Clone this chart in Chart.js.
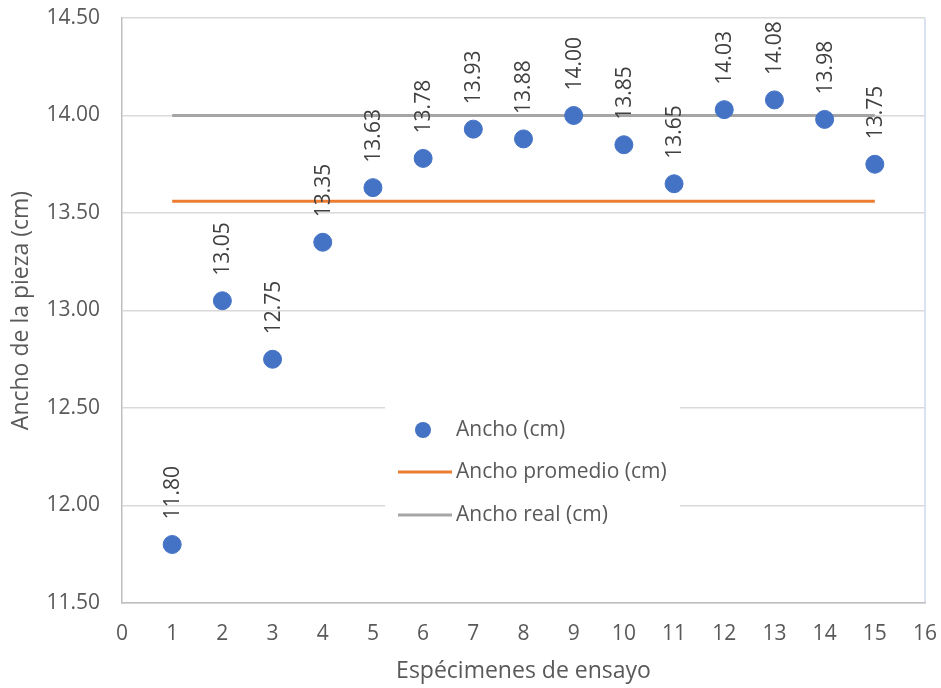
<!DOCTYPE html>
<html>
<head>
<meta charset="utf-8">
<script src="https://cdn.jsdelivr.net/npm/chart.js@4.4.1/dist/chart.umd.min.js"></script>
<style>
  html, body { margin: 0; padding: 0; background: #fff; }
  #wrap { width: 941px; height: 688px; }
</style>
</head>
<body>
<div id="wrap"><canvas id="myChart" width="941" height="688"></canvas></div>
<script>
// specimen numbers and measured widths
var especimenes = [1, 2, 3, 4, 5, 6, 7, 8, 9, 10, 11, 12, 13, 14, 15];
var anchos = [11.80, 13.05, 12.75, 13.35, 13.63, 13.78, 13.93, 13.88, 14.00, 13.85, 13.65, 14.03, 14.08, 13.98, 13.75];
// reference lines, from first to last specimen
var lineaX = [1, 15];
var anchoPromedio = [13.56, 13.56];
var anchoReal = [14.00, 14.00];
var seriesNames = ['Ancho (cm)', 'Ancho promedio (cm)', 'Ancho real (cm)'];

const FONT = "'Open Sans', 'DejaVu Sans', sans-serif";
const BLUE = '#4472C4';
const ORANGE = '#ED7D31';
const GREY = '#A5A5A5';

function toPoints(xs, ys) {
    return xs.map((x, i) => ({ x: x, y: ys[i] }));
}

// rotated value labels above each point
const valueLabels = {
    id: 'valueLabels',
    afterDatasetsDraw(chart) {
        const ctx = chart.ctx;
        const meta = chart.getDatasetMeta(0);
        ctx.save();
        ctx.font = '21px ' + FONT;
        ctx.fillStyle = '#404040';
        ctx.textAlign = 'left';
        ctx.textBaseline = 'middle';
        meta.data.forEach((pt, i) => {
            ctx.save();
            ctx.translate(pt.x + 1, pt.y - 25);
            ctx.rotate(-Math.PI / 2);
            ctx.fillText(anchos[i].toFixed(2), 0, 0);
            ctx.restore();
        });
        ctx.restore();
    }
};

// legend box drawn inside the plot, like the original
const boxLegend = {
    id: 'boxLegend',
    afterDraw(chart) {
        const ctx = chart.ctx;
        const x0 = 385, y0 = 403, w = 295, h = 125;
        ctx.save();
        ctx.fillStyle = '#ffffff';
        ctx.fillRect(x0, y0, w, h);
        ctx.font = '21px ' + FONT;
        ctx.textBaseline = 'middle';
        ctx.textAlign = 'left';
        var rows = [430, 472, 515];
        // marker
        ctx.beginPath();
        ctx.arc(423, rows[0], 8, 0, Math.PI * 2);
        ctx.fillStyle = BLUE;
        ctx.fill();
        [ORANGE, GREY].forEach((c, k) => {
            ctx.beginPath();
            ctx.moveTo(398, rows[k + 1]);
            ctx.lineTo(452, rows[k + 1]);
            ctx.strokeStyle = c;
            ctx.lineWidth = 3;
            ctx.stroke();
        });
        ctx.fillStyle = '#595959';
        seriesNames.forEach((n, k) => {
            ctx.fillText(n, 456, rows[k]);
        });
        ctx.restore();
    }
};

const ctx = document.getElementById('myChart').getContext('2d');

const myChart = new Chart(ctx, {
    type: 'scatter',
    data: {
        datasets: [{
            label: seriesNames[0],
            data: toPoints(especimenes, anchos),
            backgroundColor: BLUE,
            borderColor: BLUE,
            pointRadius: 9,
            pointHoverRadius: 9,
            order: 0
        }, {
            label: seriesNames[1],
            data: toPoints(lineaX, anchoPromedio),
            showLine: true,
            borderColor: ORANGE,
            backgroundColor: ORANGE,
            borderWidth: 3,
            pointRadius: 0,
            order: 1
        }, {
            label: seriesNames[2],
            data: toPoints(lineaX, anchoReal),
            showLine: true,
            borderColor: GREY,
            backgroundColor: GREY,
            borderWidth: 3,
            pointRadius: 0,
            order: 2
        }]
    },
    options: {
        responsive: false,
        animation: false,
        layout: {
            padding: { top: 18, right: 16, left: 0, bottom: 0 }
        },
        scales: {
            x: {
                min: 0,
                max: 16,
                afterFit: function (scale) {
                    scale.height = 85;
                    scale.paddingLeft = 0;
                    scale.paddingRight = 0;
                },
                ticks: {
                    stepSize: 1,
                    color: '#595959',
                    font: { family: FONT, size: 21 },
                    padding: 18
                },
                grid: {
                    drawTicks: false,
                    color: function (c) {
                        return c.tick && c.tick.value === 16 ? '#D9E1F2' : 'rgba(0,0,0,0)';
                    },
                    lineWidth: 2
                },
                border: { color: '#BFBFBF', width: 1.5 },
                title: {
                    display: true,
                    text: 'Espécimenes de ensayo',
                    color: '#595959',
                    font: { family: FONT, size: 23 },
                    padding: { top: 3, bottom: 3 }
                }
            },
            y: {
                min: 11.5,
                max: 14.5,
                afterFit: function (scale) {
                    scale.width = 122;
                    scale.paddingTop = 0;
                    scale.paddingBottom = 0;
                },
                ticks: {
                    stepSize: 0.5,
                    color: '#595959',
                    font: { family: FONT, size: 21 },
                    padding: 22,
                    callback: function (v) { return v.toFixed(2); }
                },
                grid: {
                    drawTicks: false,
                    color: '#D9D9D9',
                    lineWidth: 1.5
                },
                border: { color: '#BFBFBF', width: 1.5 },
                title: {
                    display: true,
                    text: 'Ancho de la pieza (cm)',
                    color: '#595959',
                    font: { family: FONT, size: 23 },
                    padding: { top: 8, bottom: 0 }
                }
            }
        },
        plugins: {
            legend: { display: false },
            tooltip: { enabled: false }
        }
    },
    plugins: [valueLabels, boxLegend]
});
</script>
</body>
</html>
